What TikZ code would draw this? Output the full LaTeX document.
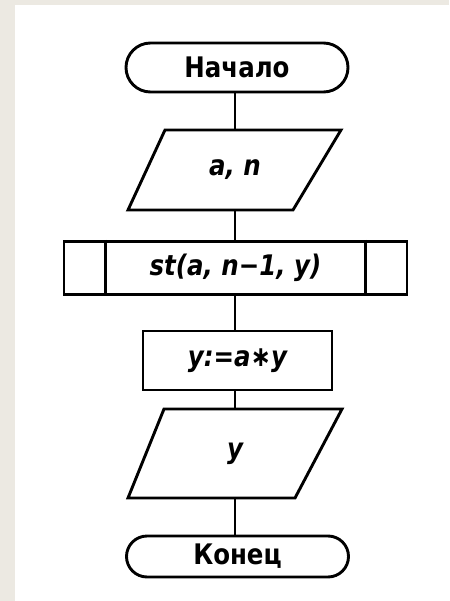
\documentclass[tikz,border=0pt]{standalone}
\usepackage{fontspec}
\usepackage{graphicx}
\setmainfont{DejaVu Sans}
\usetikzlibrary{calc,shapes.misc}
\definecolor{bgc}{RGB}{236,233,226}
\newcommand{\tallt}[1]{\scalebox{1.02}[1.18]{#1}}
\begin{document}
\begin{tikzpicture}[x=1pt,y=-1pt, line width=2.9pt, line join=miter,
  lbl/.style={font=\fontsize{24}{28}\selectfont\bfseries},
  mth/.style={font=\fontsize{24}{28}\selectfont\bfseries\itshape},
  term/.style={draw, rounded rectangle, minimum width=222pt, inner sep=0pt, lbl},
  proc/.style={draw, minimum width=189pt, minimum height=59pt, inner sep=0pt, mth},
  sub/.style={draw, minimum width=343pt, minimum height=53.5pt, inner sep=0pt, mth},
  io/.style={inner sep=0pt, minimum width=176pt, mth}]
\fill[bgc] (0,0) rectangle (449,601);
\fill[white] (15,5) rectangle (449,601);
\useasboundingbox (0,0) rectangle (449,601);

\node[term, minimum height=49pt] (start) at (237,67.5) {\tallt{Начало}};

\node[io, minimum height=80pt] (in) at (235,170) {\tallt{a, n}};
\draw (128,210) -- (165,130) -- (341,130) -- (293,210) -- cycle;

\node[sub] (call) at (235.5,268) {\tallt{st(a, n−1, y)}};
\draw ($(call.north west)+(43,0)$) -- ($(call.south west)+(43,0)$);
\draw ($(call.north east)+(-43,0)$) -- ($(call.south east)+(-43,0)$);

\node[proc] (mul) at (237.5,360.5) {\tallt{y:=a∗y}};

\node[io, minimum height=89pt] (out) at (235,453.5) {\tallt{y}};
\draw (128,498) -- (164,409) -- (342,409) -- (295,498) -- cycle;

\node[term, minimum height=41pt] (stop) at (237.5,556.5) {\tallt{Конец}};

\draw (start.south -| in.north) -- (in.north);
\draw (in.south) -- (in.south |- call.north);
\draw (call.south -| in.south) -- (mul.north -| in.south);
\draw (mul.south -| in.south) -- (out.north);
\draw (out.south) -- (stop.north -| out.south);
\end{tikzpicture}
\end{document}
